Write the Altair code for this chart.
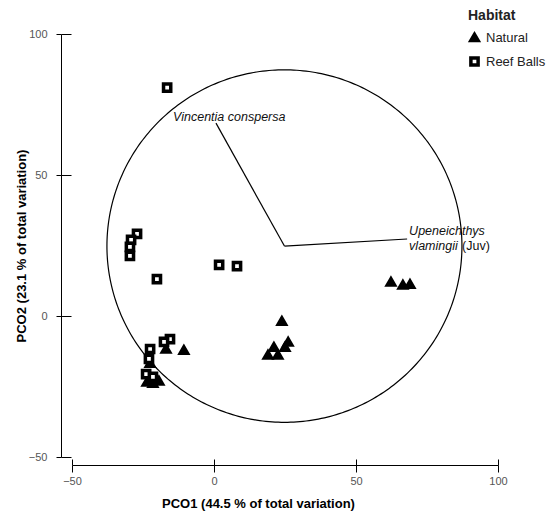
import altair as alt
import numpy as np
import pandas as pd

# PCO scores per sample
natural_x = [-16.9, -10.6, -22.5, -23.6, -21.5, -19.4, 23.9, 21.1, 19.0, 22.5, 26.1, 25.0, 62.3, 66.5, 69.0]
natural_y = [-11.7, -12.1, -16.7, -23.4, -23.8, -23.0, -1.8, -11.0, -13.8, -13.8, -9.2, -11.0, 12.1, 11.0, 11.3]
reef_x = [-16.5, -27.1, -29.2, -29.6, -29.6, -20.1, 1.8, 8.1, -15.5, -17.6, -22.5, -22.9, -23.9, -21.5]
reef_y = [81.0, 29.1, 27.0, 24.5, 21.3, 13.1, 18.1, 17.7, -8.2, -9.2, -11.7, -15.2, -20.6, -21.6]

# correlation circle and species vectors
circle_cx, circle_cy, circle_r = 24.8, 24.8, 62.5
vec_end_x = [0.7, 68.0]
vec_end_y = [68.4, 27.3]

# species labels
italic_text = ["Vincentia conspersa", "Upeneichthys", "vlamingii"]
italic_x = [-14.4, 68.7, 68.7]
italic_y = [70.6, 30.1, 25.0]
plain_text = ["(Juv)"]
plain_x = [68.7]
plain_y = [25.0]

ticks = [-50, 0, 50, 100]
FONT = "Liberation Sans"

points = pd.DataFrame({
    "x": natural_x + reef_x,
    "y": natural_y + reef_y,
    "Habitat": ["Natural"] * len(natural_x) + ["Reef Balls"] * len(reef_x),
})

ang = np.linspace(0, 2 * np.pi, 361)
circle = pd.DataFrame({
    "x": circle_cx + circle_r * np.cos(ang),
    "y": circle_cy + circle_r * np.sin(ang),
    "i": np.arange(len(ang)),
})

vectors = pd.DataFrame({
    "x": [circle_cx] * len(vec_end_x),
    "y": [circle_cy] * len(vec_end_y),
    "x2": vec_end_x,
    "y2": vec_end_y,
})

labels_it = pd.DataFrame({"x": italic_x, "y": italic_y, "t": italic_text})
labels_pl = pd.DataFrame({"x": plain_x, "y": plain_y, "t": plain_text})

sx = alt.Scale(domain=[-50, 100], nice=False, zero=False)
sy = alt.Scale(domain=[-50, 100], nice=False, zero=False)

axis_common = dict(
    values=ticks, grid=False, domainColor="black", tickColor="black",
    domainWidth=1, tickWidth=1, labelColor="#555555", labelFont=FONT,
    labelFontSize=11, labelFlush=False, titleFont=FONT, titleFontSize=13,
    titleFontWeight="bold", titleColor="black",
)

main_x_axis = alt.Axis(orient="bottom", offset=8, tickSize=7, labelPadding=3,
                       titleX=186, titleY=38, titleBaseline="middle", **axis_common)
main_y_axis = alt.Axis(orient="left", offset=11, tickSize=5, labelPadding=9,
                       titlePadding=0, **axis_common)

# inner half of the crossing tick marks
inner_x_axis = alt.Axis(orient="bottom", offset=2, tickSize=6, labels=False,
                        domain=False, values=ticks, grid=False, tickColor="black")
inner_y_axis = alt.Axis(orient="left", offset=1, tickSize=10, labels=False,
                        domain=False, values=ticks, grid=False, tickColor="black")

circle_layer = alt.Chart(circle).mark_line(color="black", strokeWidth=1.2).encode(
    x=alt.X("x:Q", scale=sx, axis=main_x_axis, title="PCO1 (44.5 % of total variation)"),
    y=alt.Y("y:Q", scale=sy, axis=main_y_axis, title="PCO2 (23.1 % of total variation)"),
    order="i:Q",
)

vector_layer = alt.Chart(vectors).mark_rule(color="black", strokeWidth=1.2).encode(
    x=alt.X("x:Q", scale=sx, axis=inner_x_axis, title=None),
    y=alt.Y("y:Q", scale=sy, axis=inner_y_axis, title=None),
    x2="x2:Q",
    y2="y2:Q",
)

point_layer = alt.Chart(points).mark_point(
    filled=True, stroke="black", strokeWidth=3.5, size=52, opacity=1, strokeJoin="miter"
).encode(
    x=alt.X("x:Q", scale=sx, axis=None),
    y=alt.Y("y:Q", scale=sy, axis=None),
    shape=alt.Shape("Habitat:N", scale=alt.Scale(domain=["Natural", "Reef Balls"],
                                                  range=["triangle-up", "square"])),
    color=alt.Color("Habitat:N", scale=alt.Scale(domain=["Natural", "Reef Balls"],
                                                  range=["black", "white"]),
                    legend=alt.Legend(
                        orient="none", legendX=396, legendY=-25,
                        title="Habitat", titleFont=FONT, titleFontSize=14,
                        titleFontWeight="bold", titleColor="#222222", titlePadding=8,
                        labelFont=FONT, labelFontSize=13, labelColor="#222222",
                        labelOffset=5, rowPadding=2, symbolSize=52,
                        symbolStrokeColor="black", symbolStrokeWidth=3.5,
                    )),
)

text_it = alt.Chart(labels_it).mark_text(
    align="left", baseline="middle", font=FONT, fontSize=12.5, fontStyle="italic", color="#111111"
).encode(x=alt.X("x:Q", scale=sx, axis=None), y=alt.Y("y:Q", scale=sy, axis=None), text="t:N")

text_pl = alt.Chart(labels_pl).mark_text(
    align="left", baseline="middle", font=FONT, fontSize=12.5, color="#111111", dx=53
).encode(x=alt.X("x:Q", scale=sx, axis=None), y=alt.Y("y:Q", scale=sy, axis=None), text="t:N")

chart = alt.layer(circle_layer, vector_layer, point_layer, text_it, text_pl).resolve_axis(
    x="independent", y="independent"
).properties(
    width=426, height=423,
    autosize=alt.AutoSizeParams(type="none"),
    padding={"left": 72, "top": 34, "right": 56, "bottom": 59},
    background="white",
).configure_view(stroke=None)

chart.save("out.html", embed_options={"renderer": "svg", "actions": False})
